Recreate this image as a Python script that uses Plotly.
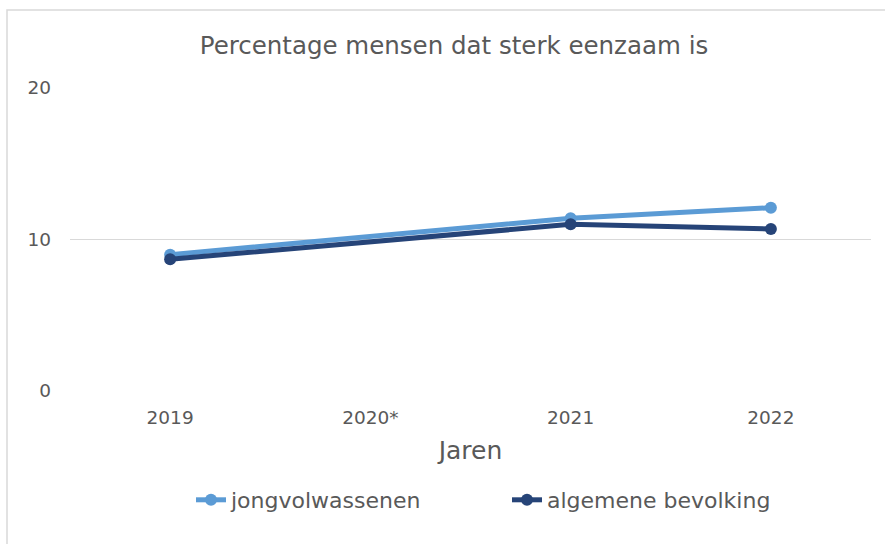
import plotly.graph_objects as go

years = ["2019", "2020*", "2021", "2022"]
jongvolwassenen = [9.0, None, 11.4, 12.1]
algemene_bevolking = [8.7, None, 11.0, 10.7]

W, H = 885, 544
L, R, T, B = 70, 14, 88, 153
pw, ph = W - L - R, H - T - B

def px_x(p):
    return (p - L) / pw

def px_y(p):
    return (H - B - p) / ph

font_color = "#595959"
fig = go.Figure()
fig.add_trace(go.Scatter(
    x=years, y=jongvolwassenen, name="jongvolwassenen", mode="lines+markers",
    connectgaps=True, line=dict(color="#5B9BD5", width=5),
    marker=dict(color="#5B9BD5", size=12)))
fig.add_trace(go.Scatter(
    x=years, y=algemene_bevolking, name="algemene bevolking", mode="lines+markers",
    connectgaps=True, line=dict(color="#264478", width=5),
    marker=dict(color="#264478", size=12)))

fig.update_layout(
    width=W, height=H,
    margin=dict(l=L, r=R, t=T, b=B),
    paper_bgcolor="white", plot_bgcolor="white",
    font=dict(family="DejaVu Sans", color=font_color, size=18.5),
    title=dict(text="Percentage mensen dat sterk eenzaam is", x=454 / W, xanchor="center",
               y=1 - 45 / H, yanchor="middle", font=dict(size=24.5, color=font_color)),
    showlegend=True,
    legend=dict(orientation="h", x=px_x(191), xanchor="left", y=px_y(500), yanchor="middle",
                font=dict(size=22, color=font_color), entrywidth=271, entrywidthmode="pixels",
                tracegroupgap=0),
    xaxis=dict(type="category", range=[-0.5, 3.5], showgrid=False, zeroline=False,
               showline=False, ticks="", ticklabelstandoff=13,
               tickfont=dict(size=18.5, color=font_color),
               title=dict(text="Jaren", font=dict(size=25, color=font_color), standoff=14)),
    yaxis=dict(range=[0, 20], tickvals=[0, 10, 20], showgrid=True, gridcolor="#D9D9D9",
               gridwidth=1, zeroline=False, showline=False, ticks="",
               ticklabelstandoff=18, tickfont=dict(size=18.5, color=font_color)),
    shapes=[dict(type="rect", xref="paper", yref="paper",
                 x0=px_x(7), x1=px_x(900), y0=px_y(600), y1=px_y(10),
                 line=dict(color="#D9D9D9", width=1.5), layer="below")],
)

fig.write_html("out.html", config={"displayModeBar": False},
               post_script="document.body.style.margin='0';")
